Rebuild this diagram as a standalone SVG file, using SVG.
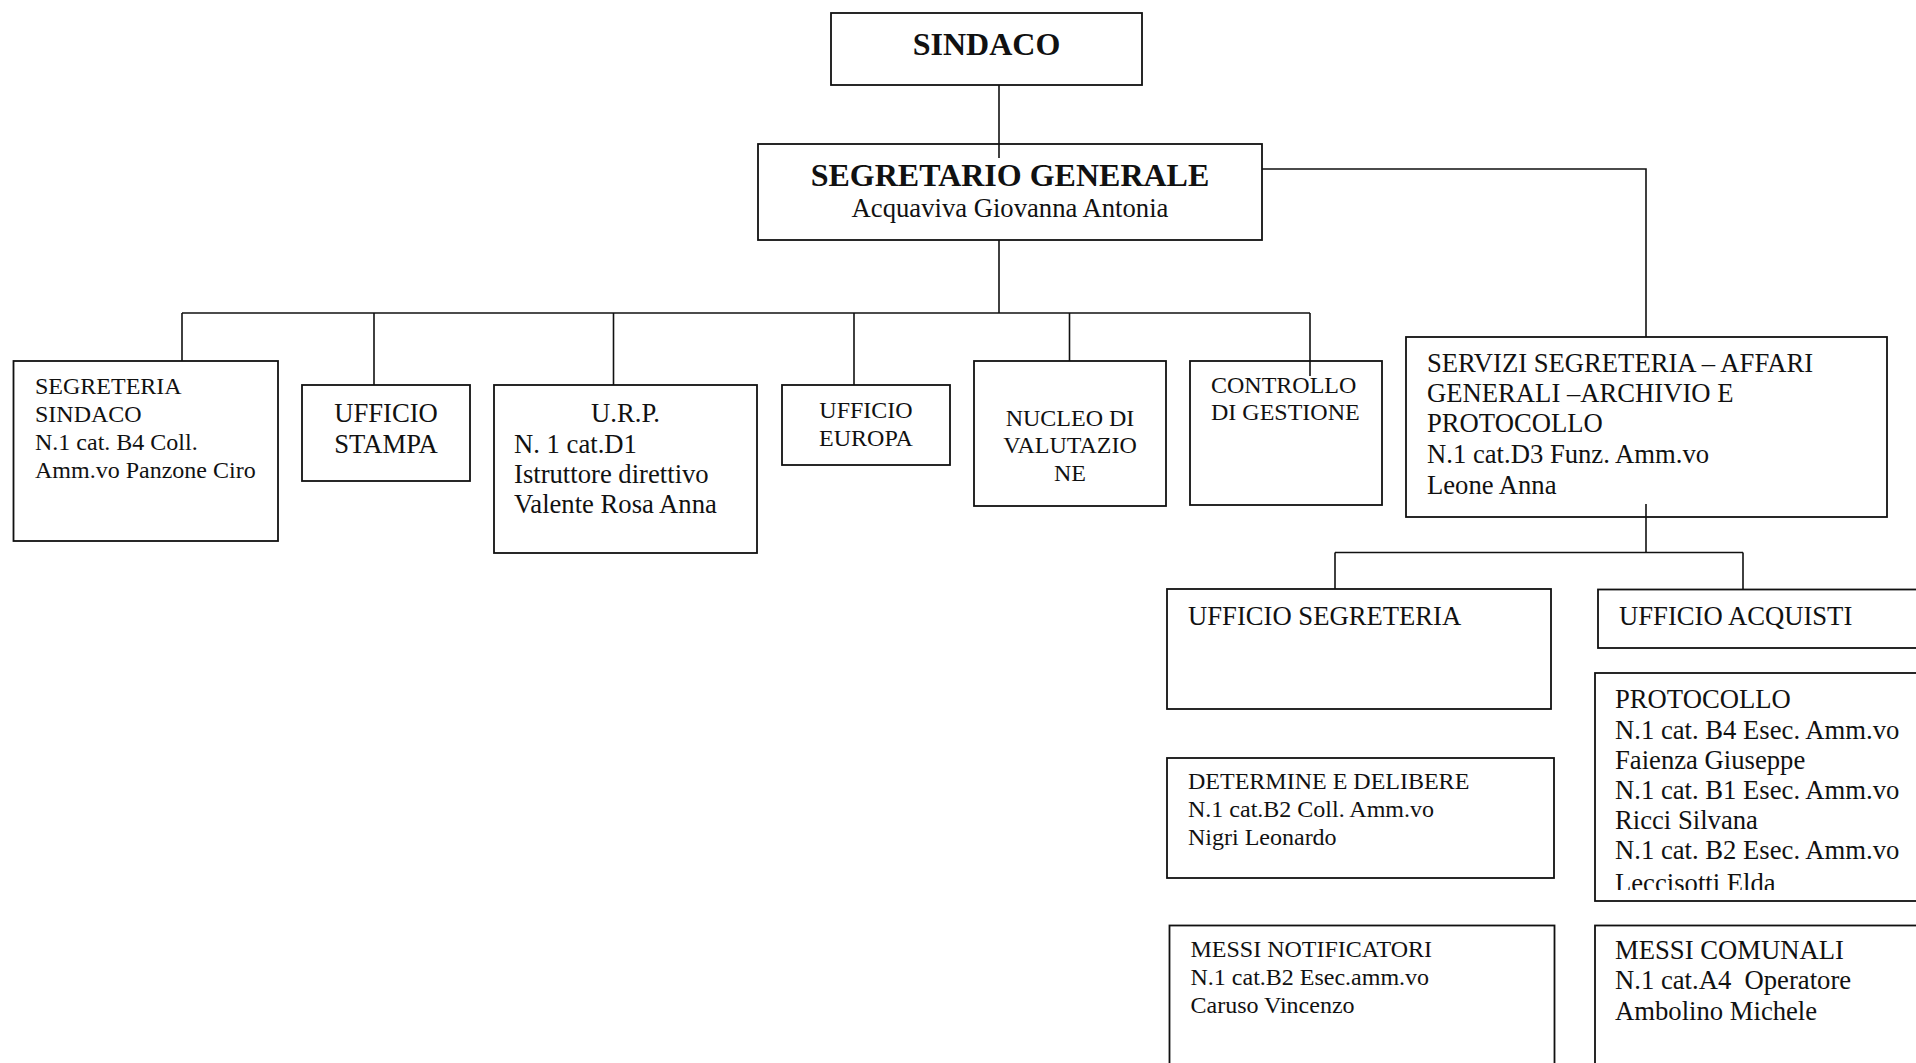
<svg xmlns="http://www.w3.org/2000/svg" width="1916" height="1063" viewBox="0 0 1916 1063">
<style>
.box{fill:#fff;stroke:#111;stroke-width:1.8}
.ln{fill:none;stroke:#111;stroke-width:1.6}
text{font-family:"Liberation Serif","Times New Roman",serif;fill:#111}
.b{font-weight:bold;font-size:32px}
.m{font-size:26.67px}
.s{font-size:24px}
.c{text-anchor:middle}
</style>
<defs>
<clipPath id="clipProt"><rect x="1590" y="670" width="330" height="220"/></clipPath>
</defs>
<rect width="1916" height="1063" fill="#fff"/>

<g id="n-sindaco">
<rect class="box" x="831" y="13" width="311" height="72"/>
<text class="b c" x="986.5" y="55">SINDACO</text>
</g>

<g id="n-segretario">
<rect class="box" x="758" y="144" width="504" height="96"/>
<text class="b c" x="1010" y="186">SEGRETARIO GENERALE</text>
<text class="m c" x="1010" y="217">Acquaviva Giovanna Antonia</text>
</g>

<g id="n-segreteria-sindaco">
<rect class="box" x="13.5" y="361" width="264.5" height="180"/>
<text class="s" x="35" y="394">SEGRETERIA</text>
<text class="s" x="35" y="422">SINDACO</text>
<text class="s" x="35" y="450">N.1 cat. B4 Coll.</text>
<text class="s" x="35" y="478">Amm.vo Panzone Ciro</text>
</g>

<g id="n-stampa">
<rect class="box" x="302" y="385" width="168" height="96"/>
<text class="m c" x="386" y="422">UFFICIO</text>
<text class="m c" x="386" y="453">STAMPA</text>
</g>

<g id="n-urp">
<rect class="box" x="494" y="385" width="263" height="168"/>
<text class="m c" x="625.5" y="422">U.R.P.</text>
<text class="m" x="514" y="453">N. 1 cat.D1</text>
<text class="m" x="514" y="483">Istruttore direttivo</text>
<text class="m" x="514" y="513">Valente Rosa Anna</text>
</g>

<g id="n-europa">
<rect class="box" x="782" y="385" width="168" height="80"/>
<text class="s c" x="866" y="417.5">UFFICIO</text>
<text class="s c" x="866" y="446">EUROPA</text>
</g>

<g id="n-nucleo">
<rect class="box" x="974" y="361" width="192" height="145"/>
<text class="s c" x="1070" y="425.5">NUCLEO DI</text>
<text class="s c" x="1070" y="453">VALUTAZIO</text>
<text class="s c" x="1070" y="481">NE</text>
</g>

<g id="n-controllo">
<rect class="box" x="1190" y="361" width="192" height="144"/>
<text class="s" x="1211" y="392.5">CONTROLLO</text>
<text class="s" x="1211" y="420">DI GESTIONE</text>
</g>

<g id="n-servizi">
<rect class="box" x="1406" y="337" width="481" height="180"/>
<text class="m" x="1427" y="372">SERVIZI SEGRETERIA – AFFARI</text>
<text class="m" x="1427" y="402">GENERALI –ARCHIVIO E</text>
<text class="m" x="1427" y="432">PROTOCOLLO</text>
<text class="m" x="1427" y="463">N.1 cat.D3 Funz. Amm.vo</text>
<text class="m" x="1427" y="494">Leone Anna</text>
</g>

<g id="n-uff-segreteria">
<rect class="box" x="1167" y="589" width="384" height="120"/>
<text class="m" x="1188" y="624.5">UFFICIO SEGRETERIA</text>
</g>

<g id="n-uff-acquisti">
<rect class="box" x="1598" y="589.5" width="340" height="58.5"/>
<text class="m" x="1619" y="625">UFFICIO ACQUISTI</text>
</g>

<g id="n-protocollo">
<rect class="box" x="1595" y="673" width="340" height="228"/>
<g clip-path="url(#clipProt)">
<text class="m" x="1615" y="707.7">PROTOCOLLO</text>
<text class="m" x="1615" y="738.5">N.1 cat. B4 Esec. Amm.vo</text>
<text class="m" x="1615" y="768.5">Faienza Giuseppe</text>
<text class="m" x="1615" y="798.5">N.1 cat. B1 Esec. Amm.vo</text>
<text class="m" x="1615" y="829">Ricci Silvana</text>
<text class="m" x="1615" y="859">N.1 cat. B2 Esec. Amm.vo</text>
<text class="m" x="1615" y="892">Leccisotti Elda</text>
</g>
</g>

<g id="n-determine">
<rect class="box" x="1167" y="758" width="387" height="120"/>
<text class="s" x="1188" y="789">DETERMINE E DELIBERE</text>
<text class="s" x="1188" y="817">N.1 cat.B2 Coll. Amm.vo</text>
<text class="s" x="1188" y="845">Nigri Leonardo</text>
</g>

<g id="n-messi-notificatori">
<rect class="box" x="1169.5" y="925.5" width="385" height="160"/>
<text class="s" x="1190.5" y="956.5">MESSI NOTIFICATORI</text>
<text class="s" x="1190.5" y="985">N.1 cat.B2 Esec.amm.vo</text>
<text class="s" x="1190.5" y="1012.5">Caruso Vincenzo</text>
</g>

<g id="n-messi-comunali">
<rect class="box" x="1595" y="925.5" width="340" height="160"/>
<text class="m" x="1615" y="959">MESSI COMUNALI</text>
<text class="m" x="1615" y="989" style="white-space:pre" xml:space="preserve">N.1 cat.A4  Operatore</text>
<text class="m" x="1615" y="1020">Ambolino Michele</text>
</g>

<g id="connectors">
<line class="ln" x1="999" y1="85" x2="999" y2="158"/>
<line class="ln" x1="999" y1="240" x2="999" y2="313"/>
<line class="ln" x1="182" y1="313" x2="1310" y2="313"/>
<line class="ln" x1="182" y1="313" x2="182" y2="361"/>
<line class="ln" x1="374" y1="313" x2="374" y2="385"/>
<line class="ln" x1="613.5" y1="313" x2="613.5" y2="385"/>
<line class="ln" x1="854" y1="313" x2="854" y2="385"/>
<line class="ln" x1="1069.5" y1="313" x2="1069.5" y2="361"/>
<line class="ln" x1="1310" y1="313" x2="1310" y2="376"/>
<polyline class="ln" points="1262,169 1646,169 1646,337"/>
<line class="ln" x1="1646" y1="504" x2="1646" y2="552.5"/>
<line class="ln" x1="1335" y1="552.5" x2="1743" y2="552.5"/>
<line class="ln" x1="1335" y1="552.5" x2="1335" y2="589"/>
<line class="ln" x1="1743" y1="552.5" x2="1743" y2="589.5"/>
</g>
</svg>
